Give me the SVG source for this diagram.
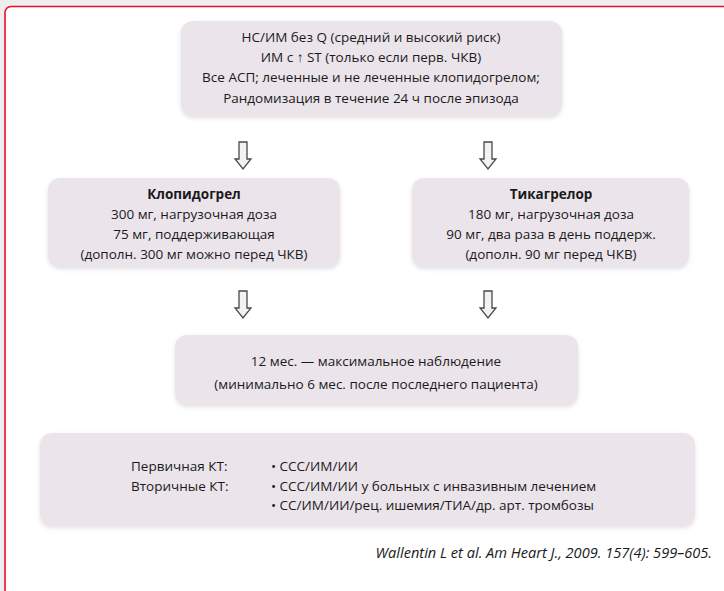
<svg xmlns="http://www.w3.org/2000/svg" width="724" height="591" viewBox="0 0 724 591">
<style>
.box{fill:#ebe5eb;}
.t{font-family:"Open Sans","Noto Sans",sans-serif;font-size:13.5px;fill:#1a1a1a;}
.c{text-anchor:middle;}
.b{font-weight:bold;}
.arr{fill:#f3f1f3;stroke:#4a4a4a;stroke-width:1.3;}
.cite{font-family:"Open Sans","Noto Sans",sans-serif;font-size:14.6px;font-style:italic;fill:#1a1a1a;text-anchor:end;}
</style>
<defs>
<filter id="sh" x="-5%" y="-10%" width="110%" height="125%">
<feGaussianBlur in="SourceAlpha" stdDeviation="2"/>
<feOffset dx="0" dy="2" result="o"/>
<feFlood flood-color="#b0a8b0" flood-opacity="0.35"/>
<feComposite in2="o" operator="in"/>
<feMerge><feMergeNode/><feMergeNode in="SourceGraphic"/></feMerge>
</filter>
<filter id="ab" x="-50%" y="-50%" width="200%" height="200%">
<feGaussianBlur stdDeviation="0.5"/>
</filter>
<path id="arrow" d="M-4,0 H4 V17 H8 L0,27 L-8,17 H-4 Z"/>
</defs>
<rect x="0" y="0" width="724" height="591" fill="#eeeeee"/>
<rect x="5" y="6.5" width="740" height="610" rx="6" fill="#ffffff" stroke="#e8102e" stroke-width="1.6"/>

<g id="connectors">
<use href="#arrow" class="arr" x="243" y="142" filter="url(#ab)"/>
<use href="#arrow" class="arr" x="488" y="142" filter="url(#ab)"/>
<use href="#arrow" class="arr" x="243" y="291" filter="url(#ab)"/>
<use href="#arrow" class="arr" x="488" y="291" filter="url(#ab)"/>
</g>

<g id="node-top">
<rect class="box" x="181" y="21" width="381" height="95" rx="12" filter="url(#sh)"/>
<text class="t c" x="371" y="42">НС/ИМ без Q (средний и высокий риск)</text>
<text class="t c" x="371" y="62">ИМ с ↑ ST (только если перв. ЧКВ)</text>
<text class="t c" x="371" y="82">Все АСП; леченные и не леченные клопидогрелом;</text>
<text class="t c" x="371" y="103">Рандомизация в течение 24 ч после эпизода</text>
</g>

<g id="node-clopidogrel">
<rect class="box" x="48" y="178" width="292" height="89" rx="12" filter="url(#sh)"/>
<text class="t c b" x="194" y="199">Клопидогрел</text>
<text class="t c" x="194" y="219">300 мг, нагрузочная доза</text>
<text class="t c" x="194" y="239">75 мг, поддерживающая</text>
<text class="t c" x="194" y="259">(дополн. 300 мг можно перед ЧКВ)</text>
</g>

<g id="node-ticagrelor">
<rect class="box" x="412" y="178" width="277" height="89" rx="12" filter="url(#sh)"/>
<text class="t c b" x="551" y="199">Тикагрелор</text>
<text class="t c" x="551" y="219">180 мг, нагрузочная доза</text>
<text class="t c" x="551" y="239">90 мг, два раза в день поддерж.</text>
<text class="t c" x="551" y="259">(дополн. 90 мг перед ЧКВ)</text>
</g>

<g id="node-followup">
<rect class="box" x="175" y="335" width="403" height="70" rx="12" filter="url(#sh)"/>
<text class="t c" x="376" y="366">12 мес. — максимальное наблюдение</text>
<text class="t c" x="376" y="389">(минимально 6 мес. после последнего пациента)</text>
</g>

<g id="node-endpoints">
<rect class="box" x="40" y="433" width="655" height="93" rx="12" filter="url(#sh)"/>
<text class="t" x="131" y="471">Первичная КТ:</text>
<text class="t" x="131" y="491">Вторичные КТ:</text>
<text class="t" x="271" y="471">• ССС/ИМ/ИИ</text>
<text class="t" x="271" y="491">• ССС/ИМ/ИИ у больных с инвазивным лечением</text>
<text class="t" x="271" y="510">• СС/ИМ/ИИ/рец. ишемия/ТИА/др. арт. тромбозы</text>
</g>

<text class="cite" x="712" y="558">Wallentin L et al. Am Heart J., 2009. 157(4): 599–605.</text>
</svg>
